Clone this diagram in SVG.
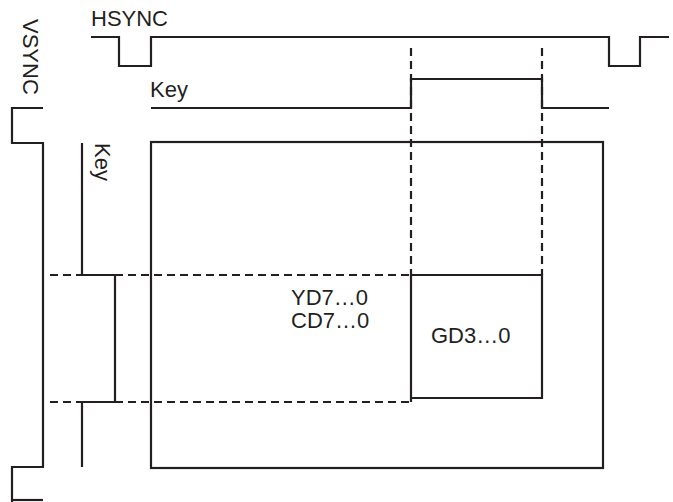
<svg xmlns="http://www.w3.org/2000/svg" width="673" height="502" viewBox="0 0 673 502">
<style>
.s{fill:none;stroke:#231f20;stroke-width:2.2;stroke-linejoin:miter;stroke-linecap:butt}
.d{fill:none;stroke:#231f20;stroke-width:2.2;stroke-dasharray:8,5}
text{font-family:"Liberation Sans",Arial,sans-serif;font-size:22px;fill:#231f20}
</style>
<rect width="673" height="502" fill="#fff"/>
<g id="connectors">
<polyline class="s" points="91,37 119,37 119,66 151,66 151,37 609,37 609,66 640,66 640,37 669,37"/>
<polyline class="s" points="151,108 411,108 411,79 542,79 542,108 609,108"/>
<polyline class="s" points="43,108 12,108 12,143 43,143 43,467 12,467 12,502"/>
<polyline class="s" points="12,500 43,500"/>
<polyline class="s" points="82,143 82,275 115,275 115,402 82,402 82,467"/>
<line class="d" x1="411" y1="48" x2="411" y2="275"/>
<line class="d" x1="542" y1="48" x2="542" y2="275"/>
<line class="d" x1="50" y1="275" x2="411" y2="275"/>
<line class="d" x1="50" y1="402" x2="411" y2="402"/>
</g>
<g id="frame"><rect class="s" x="151" y="142" width="452" height="326"/></g>
<g id="gd"><polyline class="s" points="411,402 411,275 542,275 542,398 411,398"/><text x="431" y="343">GD3…0</text></g>
<g id="labels">
<text x="91" y="26">HSYNC</text>
<text x="150" y="97">Key</text>
<text transform="translate(23,19) rotate(90)">VSYNC</text>
<text transform="translate(95,143) rotate(90)">Key</text>
<text x="291" y="305">YD7…0</text>
<text x="291" y="328">CD7…0</text>
</g>
</svg>
